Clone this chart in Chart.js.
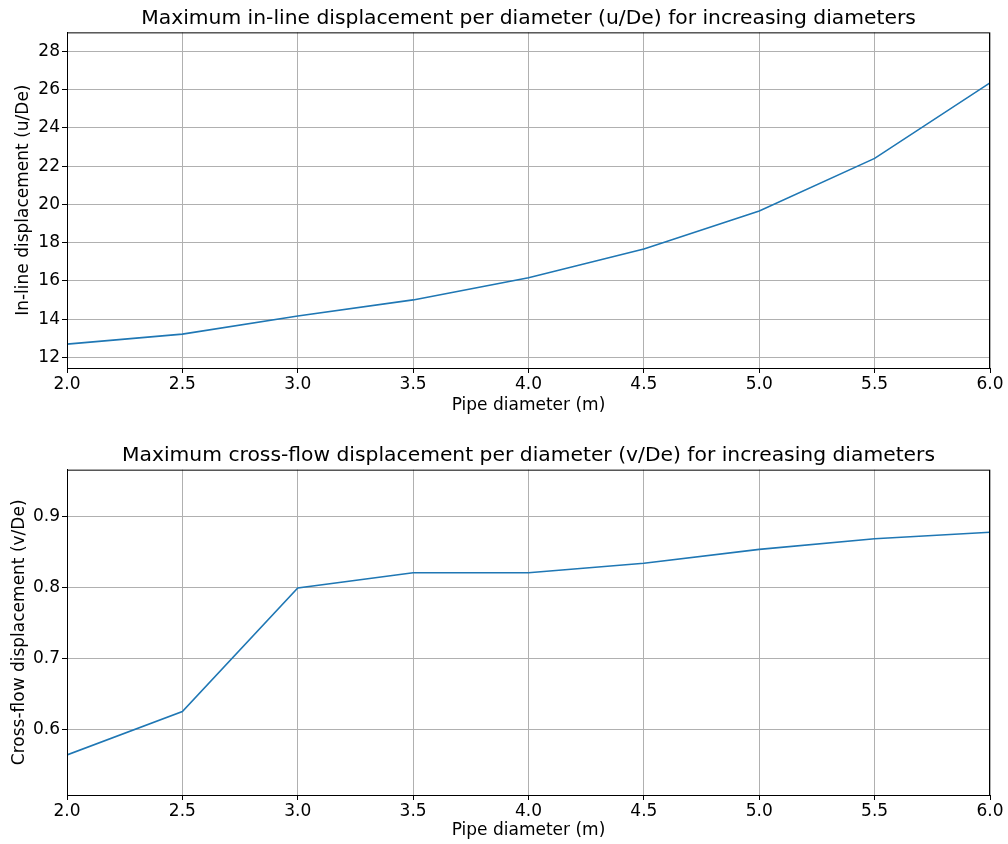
<!DOCTYPE html>
<html lang="en">
<head>
    <meta charset="UTF-8">
    <title>Maximum displacement per diameter</title>
    <script src="https://cdn.jsdelivr.net/npm/chart.js"></script>
    <style>
        body, html {
            margin: 0;
            padding: 0;
            width: 1008px;
            height: 844px;
            overflow: hidden;
            background: #fff;
            font-family: "DejaVu Sans", sans-serif;
        }
        .box {
            position: absolute;
            left: 0;
            width: 1008px;
            height: 422px;
        }
    </style>
</head>
<body>
    <div class="box" style="top:0"><canvas id="inlineChart"></canvas></div>
    <div class="box" style="top:422px"><canvas id="crossChart"></canvas></div>

    <script>
        const diameters = [2.0, 2.5, 3.0, 3.5, 4.0, 4.5, 5.0, 5.5, 6.0];
        const inlineDisp = [12.70, 13.22, 14.17, 15.01, 16.17, 17.67, 19.66, 22.41, 26.36];
        const crossDisp = [0.564, 0.625, 0.799, 0.8205, 0.8206, 0.834, 0.8535, 0.8685, 0.8775];
        const xTicks = [2.0, 2.5, 3.0, 3.5, 4.0, 4.5, 5.0, 5.5, 6.0];
        const inlineTicks = [12, 14, 16, 18, 20, 22, 24, 26, 28];
        const crossTicks = [0.6, 0.7, 0.8, 0.9];

        Chart.defaults.font.family = '"DejaVu Sans", sans-serif';
        Chart.defaults.color = '#000';

        // matplotlib style box round the plot area, title centred over the axes
        const frame = {
            id: 'frame',
            afterLayout(chart) {
                const t = chart.titleBlock;
                if (t) {
                    t.left = chart.chartArea.left;
                    t.right = chart.chartArea.right;
                    t.width = t.right - t.left;
                }
            },
            afterDraw(chart) {
                const a = chart.chartArea, c = chart.ctx;
                c.save();
                c.strokeStyle = '#000';
                c.lineWidth = 1;
                c.strokeRect(a.left + 0.5, a.top + 0.5, a.right - a.left - 1, a.bottom - a.top);
                c.restore();
            }
        };

        function makeChart(id, values, yMin, yMax, yTicks, yDigits, opts) {
            new Chart(document.getElementById(id), {
                type: 'line',
                data: {
                    datasets: [{
                        data: diameters.map((d, i) => ({ x: d, y: values[i] })),
                        borderColor: '#1f77b4',
                        borderWidth: 1.6,
                        pointRadius: 0,
                        tension: 0,
                        fill: false
                    }]
                },
                options: {
                    responsive: true,
                    maintainAspectRatio: false,
                    animation: false,
                    layout: { padding: { left: 0, right: 18, top: 0, bottom: 0 } },
                    plugins: {
                        legend: { display: false },
                        tooltip: { enabled: false },
                        title: {
                            display: true,
                            text: opts.title,
                            font: { size: 20.3, weight: 'normal' },
                            color: '#000',
                            padding: { top: opts.titleTop, bottom: opts.titleBottom }
                        }
                    },
                    scales: {
                        x: {
                            type: 'linear',
                            min: 2, max: 6,
                            afterBuildTicks: s => { s.ticks = xTicks.map(v => ({ value: v })); },
                            afterFit: s => { s.height = opts.xHeight; },
                            ticks: {
                                font: { size: 17 },
                                color: '#000',
                                padding: 1,
                                maxRotation: 0,
                                callback: v => v.toFixed(1)
                            },
                            grid: { color: '#b0b0b0', lineWidth: 1, tickLength: 5, tickColor: '#000' },
                            border: { color: '#000', width: 1 },
                            title: {
                                display: true,
                                text: 'Pipe diameter (m)',
                                font: { size: 17 },
                                color: '#000',
                                padding: { top: 0, bottom: opts.xTitlePad }
                            }
                        },
                        y: {
                            type: 'linear',
                            min: yMin, max: yMax,
                            afterBuildTicks: s => { s.ticks = yTicks.map(v => ({ value: v })); },
                            afterFit: s => { s.width = 67; },
                            ticks: {
                                font: { size: 17 },
                                color: '#000',
                                padding: 2,
                                callback: v => v.toFixed(yDigits)
                            },
                            grid: { color: '#b0b0b0', lineWidth: 1, tickLength: 5, tickColor: '#000' },
                            border: { color: '#000', width: 1 },
                            title: {
                                display: true,
                                text: opts.yTitle,
                                font: { size: 17 },
                                color: '#000',
                                padding: { top: opts.yTitlePad, bottom: 0 }
                            }
                        }
                    }
                },
                plugins: [frame]
            });
        }

        makeChart('inlineChart', inlineDisp, 11.45, 29.0, inlineTicks, 0, {
            title: 'Maximum in-line displacement per diameter (u/De) for increasing diameters',
            titleTop: 7, titleBottom: 1,
            xHeight: 54, xTitlePad: 6,
            yTitle: 'In-line displacement (u/De)', yTitlePad: 13
        });

        makeChart('crossChart', crossDisp, 0.5076, 0.9657, crossTicks, 1, {
            title: 'Maximum cross-flow displacement per diameter (v/De) for increasing diameters',
            titleTop: 22, titleBottom: 1.3,
            xHeight: 49, xTitlePad: 3,
            yTitle: 'Cross-flow displacement (v/De)', yTitlePad: 9
        });
    </script>
</body>
</html>
